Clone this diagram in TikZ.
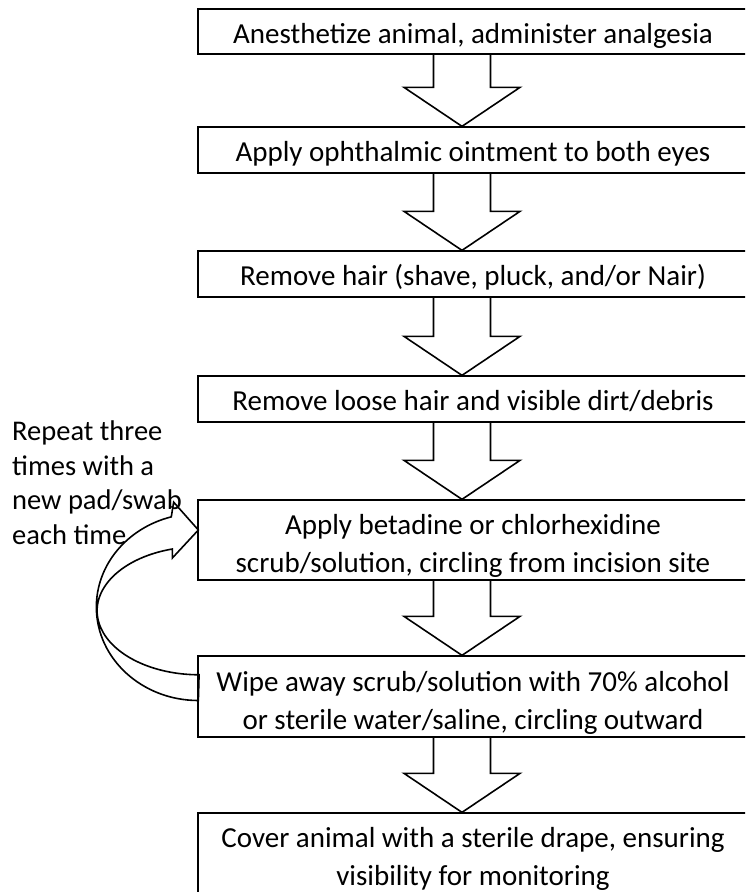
\documentclass[tikz,border=0pt]{standalone}
\usepackage{fontspec}
\setmainfont{Carlito}
\usetikzlibrary{
  calc,
}
\newcommand\topstrut{\rule{0pt}{34pt}}
\newcommand\lowstrut{\rule[-7pt]{0pt}{7pt}}
\tikzset{
  basebox/.style={
    draw, line width=1.3pt, inner sep=0pt,
    minimum width=550pt, align=center,
    font=\fontsize{29pt}{38pt}\selectfont,
  },
  stepbox/.style={basebox, minimum height=46pt,
    execute at begin node={\rule{0pt}{30pt}},
    execute at end node={\rule[-7pt]{0pt}{7pt}}},
  tallbox/.style={basebox, minimum height=80pt},
  blockarrow/.style={line width=1.6pt, line join=miter},
  looparrow/.style={line width=1.6pt, line join=miter},
  note/.style={align=left, inner sep=0pt, font=\fontsize{28.5pt}{34.5pt}\selectfont},
}

\begin{document}
\begin{tikzpicture}[x=1pt, y=-1pt]
\clip (0,0) rectangle (745,892);
\node[stepbox, minimum height=45pt] (s1) at (473,31.5) {Anesthetize animal, administer analgesia};
\node[stepbox] (s2) at (473,150) {Apply ophthalmic ointment to both eyes};
\node[stepbox] (s3) at (473,274) {Remove hair (shave, pluck, and/or Nair)};
\node[stepbox] (s4) at (473,399) {Remove loose hair and visible dirt/debris};
\node[tallbox] (s5) at (473,540) {\topstrut Apply betadine or chlorhexidine\\scrub/solution, circling from incision site\lowstrut};
\node[tallbox, minimum height=81pt] (s6) at (473,696.5) {\topstrut Wipe away scrub/solution with 70\% alcohol\\or sterile water/saline, circling outward\lowstrut};
\node[tallbox] (s7) at (473,853) {\topstrut Cover animal with a sterile drape, ensuring\\visibility for monitoring\lowstrut};
\node[note, anchor=north west] (note) at (12,421) {Repeat three\\times with a\\new pad/swab\\each time};

% block arrows between the steps
\foreach \a/\b in {s1/s2, s2/s3, s3/s4, s4/s5, s5/s6, s6/s7}
  \draw[blockarrow] let \p1=($(\a.south)+(-11,0)$), \p2=($(\b.north)+(-11,0)$) in
    (\x1-28.5pt,\y1) -- (\x1-28.5pt,\y2+39pt) -- (\x1-58pt,\y2+39pt) -- (\x2,\y2)
    -- (\x1+58pt,\y2+39pt) -- (\x1+28.5pt,\y2+39pt) -- (\x1+28.5pt,\y1);

% curved arrow back to the scrub step
\draw[looparrow] ($(s6.west)+(1,4)$) arc[start angle=270, end angle=105.4, x radius=102pt, y radius=93.5pt]
  -- ++(2.4,-14.7) -- ($(s5.west)+(1,-10)$) -- ++(-26,28) -- ++(0,-9)
  arc[start angle=105.2, end angle=270, x radius=102pt, y radius=64pt] -- cycle;
\end{tikzpicture}
\end{document}
